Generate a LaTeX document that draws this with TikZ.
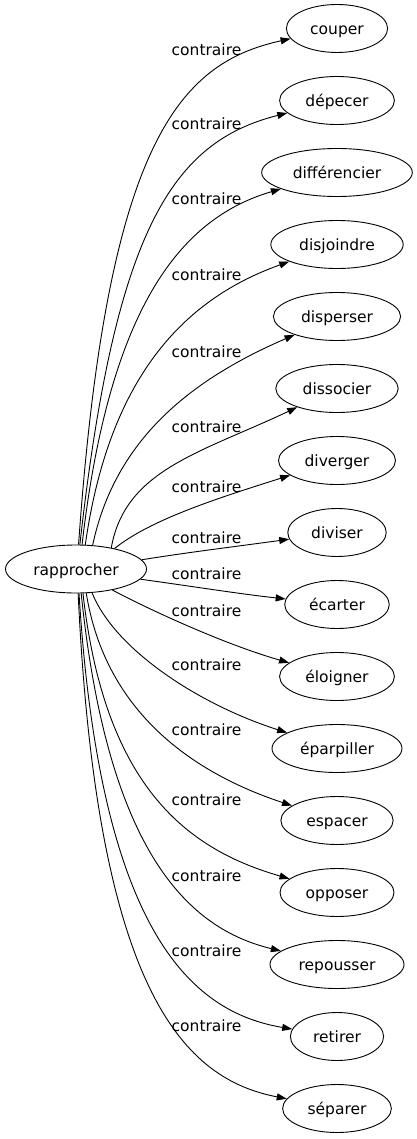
\documentclass[tikz,border=0pt]{standalone}
\usepackage{fontspec}
\setmainfont{DejaVu Sans}
\usetikzlibrary{shapes.geometric,arrows.meta}
\begin{document}
\begin{tikzpicture}[x=1pt,y=-1pt,
  font=\fontsize{15.5}{18}\selectfont,
  word/.style={ellipse,draw,line width=0.9pt,inner xsep=9pt,inner ysep=2pt,
    minimum height=48pt,text height=12pt,text depth=0pt},
  lbl/.style={anchor=base,inner sep=0pt},
  edge/.style={draw,line width=0.9pt,-{Triangle[length=10pt,width=7pt]}}]
\useasboundingbox (0,0) rectangle (417,1139);
\node[word,minimum width=141pt,inner xsep=4pt] (r) at (76,569) {rapprocher};
\node[word] (t1) at (337,28.5) {couper};
\node[word] (t2) at (337,100.5) {dépecer};
\node[word] (t3) at (337,172.5) {différencier};
\node[word] (t4) at (337,244.5) {disjoindre};
\node[word] (t5) at (337,316.5) {disperser};
\node[word] (t6) at (337,388.5) {dissocier};
\node[word] (t7) at (337,460.5) {diverger};
\node[word] (t8) at (337,532.5) {diviser};
\node[word] (t9) at (337,604.5) {écarter};
\node[word] (t10) at (337,676.5) {éloigner};
\node[word] (t11) at (337,748.5) {éparpiller};
\node[word] (t12) at (337,820.5) {espacer};
\node[word] (t13) at (337,892.5) {opposer};
\node[word] (t14) at (337,964.5) {repousser};
\node[word] (t15) at (337,1036.5) {retirer};
\node[word] (t16) at (337,1108.5) {séparer};
\node[lbl] (l1) at (206.5,56) {contraire};
\node[lbl] (l2) at (206.5,130) {contraire};
\node[lbl] (l3) at (206.5,205) {contraire};
\node[lbl] (l4) at (206.5,281) {contraire};
\node[lbl] (l5) at (206.5,357) {contraire};
\node[lbl] (l6) at (206.5,432) {contraire};
\node[lbl] (l7) at (206.5,492) {contraire};
\node[lbl] (l8) at (206.5,543) {contraire};
\node[lbl] (l9) at (206.5,579) {contraire};
\node[lbl] (l10) at (206.5,616) {contraire};
\node[lbl] (l11) at (206.5,670) {contraire};
\node[lbl] (l12) at (206.5,735) {contraire};
\node[lbl] (l13) at (206.5,805) {contraire};
\node[lbl] (l14) at (206.5,881) {contraire};
\node[lbl] (l15) at (206.5,956) {contraire};
\node[lbl] (l16) at (206.5,1031) {contraire};
\path[edge] (r.84) .. controls (107,140) and (180,63) .. (t1);
\path[edge] (r.81) .. controls (115,230) and (172,142) .. (t2);
\path[edge] (r.76) .. controls (110,300) and (185,217) .. (t3);
\path[edge] (r.69) .. controls (110,370) and (190,297) .. (t4);
\path[edge] (r.55) .. controls (115,440) and (190,380) .. (t5);
\path[edge] (r.31) .. controls (125,470) and (200,453) .. (t6);
\path[edge] (r.28) .. controls (150,520) and (215,499) .. (t7);
\path[edge] (r.8) .. controls (190,552) and (240,546) .. (t8);
\path[edge] (r.-9) .. controls (190,586) and (240,594) .. (t9);
\path[edge] (r.-30) .. controls (140,605) and (220,643) .. (t10);
\path[edge] (r.-56) .. controls (115,650) and (200,705) .. (t11);
\path[edge] (r.-67) .. controls (105,710) and (190,772) .. (t12);
\path[edge] (r.-74) .. controls (105,790) and (190,850) .. (t13);
\path[edge] (r.-78) .. controls (108,855) and (190,929) .. (t14);
\path[edge] (r.-83) .. controls (100,930) and (190,1012) .. (t15);
\path[edge] (r.-85) .. controls (97,995) and (185,1079) .. (t16);
\end{tikzpicture}
\end{document}
